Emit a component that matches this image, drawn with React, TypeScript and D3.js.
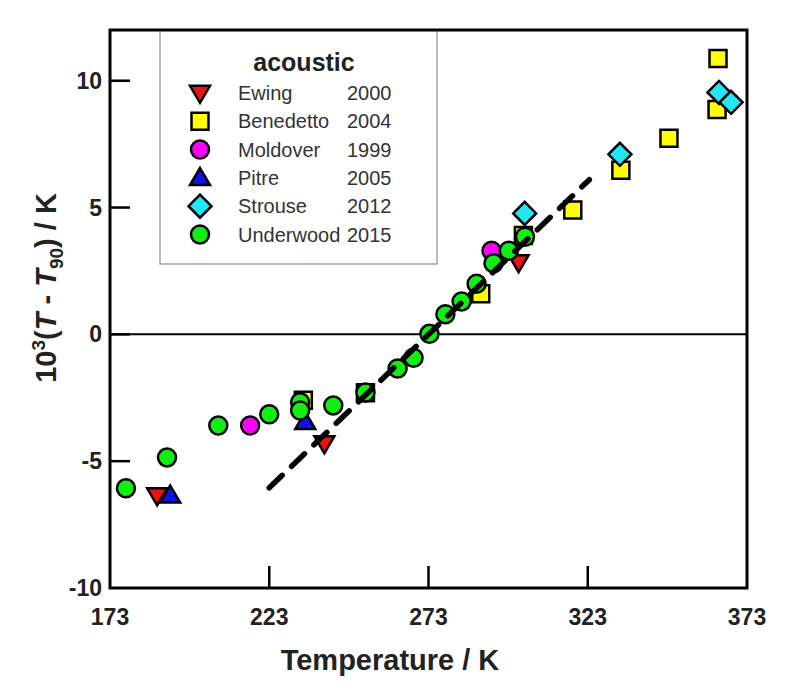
import React from "react";
import * as d3 from "d3";

// ---------- data ----------
const ewingT = [187.8, 240.3, 301.3];
const ewingV = [-6.35, -4.3, 2.84];

const benedettoT = [233.7, 253.2, 289.4, 302.8, 318.3, 333.4, 348.5, 363.9, 363.6];
const benedettoV = [-2.6, -2.3, 1.6, 3.9, 4.9, 6.47, 7.73, 10.88, 8.87];

const moldoverT = [217.0, 292.8];
const moldoverV = [-3.59, 3.3];

const pitreT = [191.9, 234.3];
const pitreV = [-6.35, -3.45];

const strouseT = [303.2, 333.1, 364.2, 368.0];
const strouseV = [4.77, 7.1, 9.54, 9.15];

const underwoodT = [178.0, 190.9, 207.0, 223.0, 232.7, 232.7, 243.1, 253.2, 263.3, 268.3, 273.3, 278.3, 283.4, 288.1, 293.4, 298.2, 303.3];
const underwoodV = [-6.07, -4.85, -3.59, -3.15, -2.68, -3.0, -2.8, -2.29, -1.35, -0.92, 0.02, 0.79, 1.3, 2.0, 2.8, 3.3, 3.85];

const fitT = [223, 323.5];
const fitV = [-6.05, 6.1];

const xTicks = [173, 223, 273, 323, 373];
const yTicks = [-10, -5, 0, 5, 10];

const legendNames = ["Ewing", "Benedetto", "Moldover", "Pitre", "Strouse", "Underwood"];
const legendYears = ["2000", "2004", "1999", "2005", "2012", "2015"];

// ---------- layout ----------
const W = 800, H = 691;
const L = 110, R = 747, T = 30, B = 588;

const x = d3.scaleLinear().domain([173, 373]).range([L, R]);
const y = d3.scaleLinear().domain([-10, 12]).range([B, T]);

type Shape = "tdown" | "square" | "circle" | "tup" | "diamond";

function markerPath(shape: Shape, cx: number, cy: number): string {
  const p = d3.path();
  if (shape === "circle") {
    p.arc(cx, cy, 9, 0, Math.PI * 2);
  } else if (shape === "square") {
    const s = 8.5;
    p.rect(cx - s, cy - s, 2 * s, 2 * s);
  } else if (shape === "diamond") {
    const s = 11.5;
    p.moveTo(cx, cy - s); p.lineTo(cx + s, cy); p.lineTo(cx, cy + s); p.lineTo(cx - s, cy); p.closePath();
  } else if (shape === "tup") {
    const hw = 10, h = 17;
    p.moveTo(cx, cy - h * 0.58); p.lineTo(cx + hw, cy + h * 0.42); p.lineTo(cx - hw, cy + h * 0.42); p.closePath();
  } else {
    const hw = 10, h = 17;
    p.moveTo(cx, cy + h * 0.58); p.lineTo(cx + hw, cy - h * 0.42); p.lineTo(cx - hw, cy - h * 0.42); p.closePath();
  }
  return p.toString();
}

const series = [
  { T: benedettoT, V: benedettoV, shape: "square" as Shape, color: "#ffff00" },
  { T: strouseT, V: strouseV, shape: "diamond" as Shape, color: "#22e6f2" },
  { T: moldoverT, V: moldoverV, shape: "circle" as Shape, color: "#ff00ff" },
  { T: pitreT, V: pitreV, shape: "tup" as Shape, color: "#1010ee" },
  { T: ewingT, V: ewingV, shape: "tdown" as Shape, color: "#ee1111" },
  { T: underwoodT, V: underwoodV, shape: "circle" as Shape, color: "#11ee11" },
];

const legendStyle = [
  { shape: "tdown" as Shape, color: "#ee1111" },
  { shape: "square" as Shape, color: "#ffff00" },
  { shape: "circle" as Shape, color: "#ff00ff" },
  { shape: "tup" as Shape, color: "#1010ee" },
  { shape: "diamond" as Shape, color: "#22e6f2" },
  { shape: "circle" as Shape, color: "#11ee11" },
];

export default function App() {
  const line = d3.line<number>().x((_, i) => x(fitT[i])).y((v) => y(v));
  const font = "'Liberation Sans', Arial, sans-serif";
  return (
    <svg width={W} height={H} style={{ display: "block", position: "absolute", left: 0, top: 0 }} fontFamily={font}>
      <rect x={0} y={0} width={W} height={H} fill="#fff" />
      {/* legend box */}
      <rect x={160} y={T} width={277} height={234} fill="#fff" stroke="#8a8a8a" strokeWidth={1.2} />
      <text x={304} y={71} textAnchor="middle" fontWeight="bold" fontSize={25} fill="#222">acoustic</text>
      {legendNames.map((n, i) => {
        const cy = 93 + i * 28.3;
        return (
          <g key={n}>
            <path d={markerPath(legendStyle[i].shape, 200, cy)} fill={legendStyle[i].color} stroke="#000" strokeWidth={2.5} strokeLinejoin="miter" />
            <text x={238} y={cy + 7} fontSize={20} fill="#333">{n}</text>
            <text x={347} y={cy + 7} fontSize={20} fill="#333">{legendYears[i]}</text>
          </g>
        );
      })}
      {/* zero line */}
      <line x1={L} x2={R} y1={y(0)} y2={y(0)} stroke="#000" strokeWidth={2} />
      {/* ticks */}
      {xTicks.slice(1, -1).map((t) => (
        <line key={"xt" + t} x1={x(t)} x2={x(t)} y1={B} y2={B - 22} stroke="#000" strokeWidth={2.5} />
      ))}
      {yTicks.slice(1, -1).concat([10]).map((t) => (
        <line key={"yt" + t} x1={L} x2={L + 20} y1={y(t)} y2={y(t)} stroke="#000" strokeWidth={2.5} />
      ))}
      {/* points */}
      {series.map((s, si) =>
        s.T.map((t, i) => (
          <path key={si + "-" + i} d={markerPath(s.shape, x(t), y(s.V[i]))} fill={s.color} stroke="#000" strokeWidth={2.5} />
        ))
      )}
      {/* fit line */}
      <path d={line(fitV) || ""} fill="none" stroke="#000" strokeWidth={5.5} strokeDasharray="18 13" strokeLinecap="round" />
      {/* frame */}
      <rect x={L} y={T} width={R - L} height={B - T} fill="none" stroke="#000" strokeWidth={3} />
      {/* tick labels */}
      {xTicks.map((t) => (
        <text key={"xl" + t} x={x(t)} y={625} textAnchor="middle" fontWeight="bold" fontSize={23} fill="#222">{t}</text>
      ))}
      {yTicks.map((t) => (
        <text key={"yl" + t} x={102} y={y(t) + 8} textAnchor="end" fontWeight="bold" fontSize={23} fill="#222">{t}</text>
      ))}
      {/* axis titles */}
      <text x={390} y={670} textAnchor="middle" fontWeight="bold" fontSize={29} fill="#222">Temperature / K</text>
      <text transform="translate(56,288) rotate(-90)" textAnchor="middle" fontWeight="bold" fontSize={29} fill="#222">
        10<tspan dy={-11} fontSize={19}>3</tspan><tspan dy={11}>(</tspan><tspan fontStyle="italic">T</tspan> - <tspan fontStyle="italic">T</tspan><tspan dy={7} fontSize={19}>90</tspan><tspan dy={-7}>) / K</tspan>
      </text>
    </svg>
  );
}
